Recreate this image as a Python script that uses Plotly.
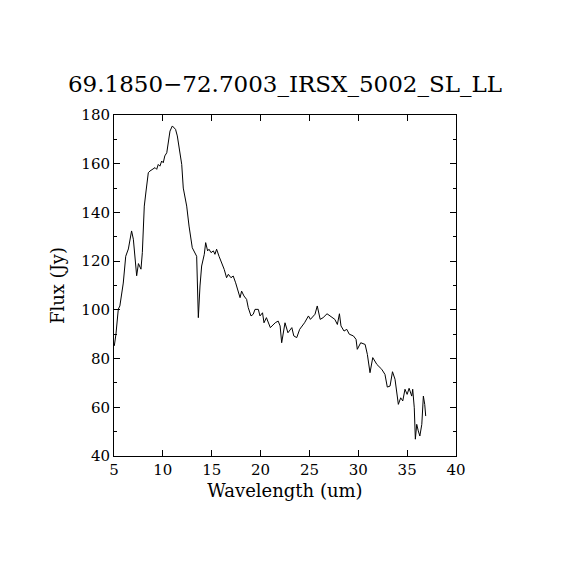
import plotly.graph_objects as go

# spectrum
wavelength = [5.03, 5.2, 5.44, 5.6, 5.95, 6.2, 6.47, 6.8, 6.98, 7.32, 7.5, 7.76, 7.9,
              8.1, 8.28, 8.51, 8.68, 9.02, 9.2, 9.37, 9.53, 9.7, 9.88, 10.04, 10.2,
              10.4, 10.55, 10.73, 10.97, 11.14, 11.3, 11.48, 11.68, 11.93, 12.09,
              12.44, 12.68, 13.01, 13.46, 13.63, 13.8, 13.97, 14.24, 14.38, 14.58,
              14.72, 14.93, 15.17, 15.33, 15.5, 15.75, 16.02, 16.28, 16.52, 16.7,
              16.97, 17.2, 17.45, 17.72, 17.9, 18.06, 18.3, 18.57, 18.74, 19.02, 19.25,
              19.43, 19.77, 19.94, 20.2, 20.35,
              20.6, 21.0, 21.5, 21.8, 22.0, 22.16, 22.5, 22.8, 23.2, 23.4, 23.7, 24.0,
              24.3, 24.5, 24.9, 25.1, 25.57, 25.8, 26.1, 26.4, 26.8, 27.3, 27.6, 27.86,
              28.07, 28.23, 28.54, 28.82, 29.08, 29.5, 29.77, 29.9, 30.25, 30.7, 30.93,
              31.2, 31.48, 31.9, 32.4, 32.73, 32.97, 33.25, 33.5, 33.76, 34.1, 34.34,
              34.55, 34.78, 35.0, 35.2, 35.47, 35.57, 35.73, 35.84, 35.98, 36.14, 36.3,
              36.5, 36.66, 36.8, 36.9]
flux = [85.2, 90.0, 100.3, 101.6, 111.0, 122.0, 125.0, 132.4, 129.0, 114.0, 119.0, 116.7,
        123.5, 142.6, 148.8, 156.3, 157.0, 157.7, 158.4, 157.7, 159.7, 159.0, 161.1,
        160.4, 163.2, 164.5, 169.3, 173.4, 175.5, 174.8, 174.1, 171.4, 165.2, 159.7,
        150.0, 142.6, 134.4, 125.5, 122.0, 96.8, 109.8, 118.0, 122.8, 127.6, 124.2,
        124.9, 123.5, 124.2, 122.8, 124.9, 122.0, 119.3, 116.6, 113.2, 114.6,
        113.2, 113.9, 111.1, 107.7, 105.0, 107.7, 105.7, 104.3, 100.9, 97.5, 98.2,
        100.2, 100.2, 97.5, 98.8, 94.7,
        96.8, 92.7, 94.7, 95.4, 93.4, 86.5, 94.7, 90.6, 92.7, 89.3, 88.6, 92.0, 93.4,
        94.7, 97.5, 96.1, 98.2, 101.6, 96.1, 96.8, 98.4, 96.8, 96.1, 94.0, 98.4, 93.4,
        91.3, 92.0, 90.0, 89.3, 87.9, 83.8, 86.5, 85.8, 81.7, 74.2, 80.4, 77.6, 75.6,
        73.5, 68.3, 68.7, 74.6, 71.5, 61.2, 63.9, 62.6, 67.4, 65.3, 67.8, 64.6, 67.4,
        59.8, 46.9, 53.0, 50.3, 48.2, 53.0, 64.6, 61.2, 56.4]

x_ticks = [5, 10, 15, 20, 25, 30, 35, 40]
y_ticks = [40, 60, 80, 100, 120, 140, 160, 180]

tick_font = dict(family="DejaVu Serif", size=15, color="black")
label_font = dict(family="DejaVu Serif", size=18, color="black")

fig = go.Figure()
fig.add_trace(go.Scatter(x=wavelength, y=flux, mode="lines",
                         line=dict(color="black", width=1)))

axis_common = dict(showgrid=False, zeroline=False, showline=True, mirror="ticks",
                   linecolor="black", linewidth=1, ticks="inside", tickcolor="black",
                   tickwidth=1, ticklen=6, tickfont=tick_font)

fig.update_layout(
    width=570, height=570,
    margin=dict(l=106, r=122, t=107, b=122),
    paper_bgcolor="white", plot_bgcolor="white",
    showlegend=False,
    title=dict(text="69.1850\u221272.7003_IRSX_5002_SL_LL", x=(285 - 8) / 570,
               xanchor="center", y=1 - 76 / 570, yanchor="middle",
               font=dict(family="DejaVu Serif", size=23, color="black")),
    xaxis=dict(range=[5, 40], tickvals=x_ticks,
               title=dict(text="Wavelength (um)", font=label_font, standoff=6),
               **axis_common),
    yaxis=dict(range=[40, 180], tickvals=y_ticks,
               minor=dict(dtick=10, ticks="inside", ticklen=3, tickcolor="black"),
               title=dict(text="Flux (Jy)", font=label_font, standoff=12),
               **axis_common),
)

fig.write_html("out.html")
